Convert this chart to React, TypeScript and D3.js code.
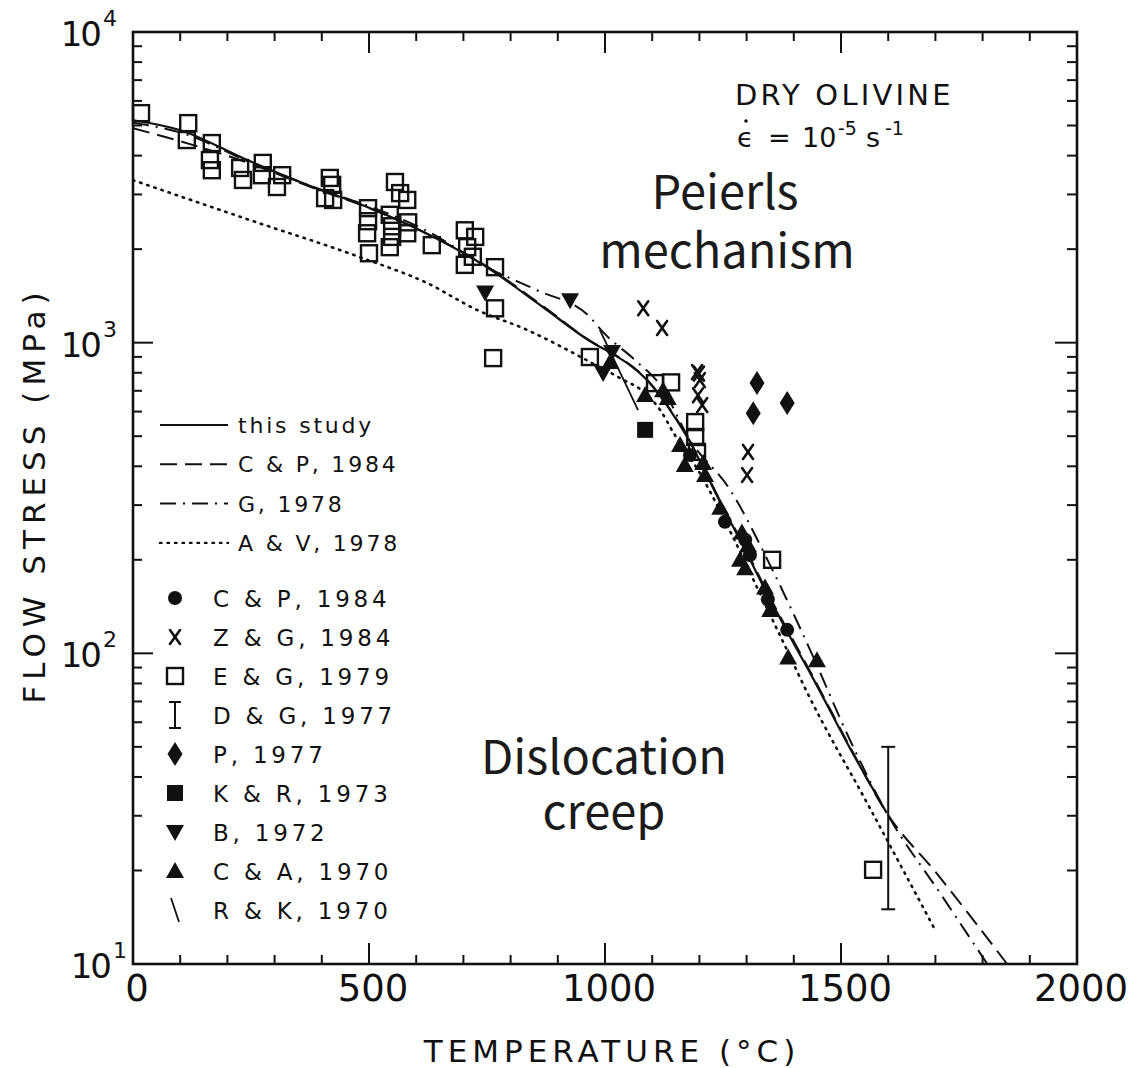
import React from "react";
import * as d3 from "d3";

type Pt = [number, number];

// Flow-law curves: [temperature (°C), flow stress (MPa)]
const thisStudyCurve: Pt[] = [
  [0, 5200], [100, 4830], [242, 3870], [381, 3170], [487, 2770], [608, 2300],
  [742, 1780], [869, 1300], [975, 997], [1011, 930], [1089, 758], [1138, 607],
  [1174, 497], [1244, 307], [1297, 215], [1345, 154], [1392, 113], [1439, 84],
  [1519, 49.5], [1597, 30.6],
];
const cp1984Curve: Pt[] = [
  [0, 4900], [100, 4450], [242, 3800], [381, 3150], [487, 2760], [608, 2300],
  [742, 1790], [869, 1310], [975, 1000], [1011, 935], [1089, 760], [1138, 610],
  [1174, 500], [1244, 310], [1297, 218], [1345, 156], [1392, 115], [1439, 85],
  [1519, 50], [1597, 30.6], [1700, 19.8], [1852, 10],
];
const g1978Curve: Pt[] = [
  [0, 5100], [100, 4750], [250, 3800], [400, 3100], [500, 2750], [620, 2300],
  [763, 1710], [856, 1475], [968, 1209], [996, 1081], [1068, 867], [1117, 731],
  [1180, 486], [1265, 336], [1350, 192], [1434, 103], [1519, 52.6], [1597, 30.6],
  [1710, 16.9], [1810, 10],
];
const av1978Curve: Pt[] = [
  [0, 3335], [248, 2480], [487, 1870], [623, 1556], [729, 1274], [835, 1099],
  [905, 975], [968, 867], [1032, 769], [1085, 688], [1117, 607], [1144, 516],
  [1201, 380], [1271, 237], [1328, 156], [1381, 106], [1428, 75], [1561, 31.8],
  [1699, 12.9],
];

// Experimental data
const cp1984Pts: Pt[] = [[1180, 435], [1254, 265], [1297, 232], [1307, 207], [1345, 149], [1386, 119]];
const zg1984Pts: Pt[] = [
  [1081, 1290], [1121, 1115], [1195, 804], [1199, 795], [1201, 758], [1197, 677],
  [1206, 630], [1303, 445], [1301, 375],
];
const eg1979Pts: Pt[] = [
  [17, 5480], [117, 5090], [114, 4490], [167, 4390], [163, 3870], [167, 3590],
  [227, 3650], [233, 3340], [275, 3790], [273, 3460], [316, 3460], [305, 3170],
  [417, 3390], [422, 3220], [407, 2920], [424, 2880], [498, 2710], [498, 2460],
  [496, 2250], [500, 1940], [555, 3290], [566, 3030], [581, 2880], [544, 2580],
  [549, 2370], [549, 2190], [544, 2030], [583, 2440], [581, 2250], [633, 2060],
  [703, 2300], [725, 2190], [708, 2030], [720, 1890], [703, 1780], [767, 1750],
  [767, 1290], [763, 892], [968, 899], [1106, 741], [1140, 745], [1191, 555],
  [1191, 497], [1195, 445], [1354, 200], [1568, 20.1],
];
const dg1977Temp = 1600;
const dg1977Range: [number, number] = [15, 50];
const p1977Pts: Pt[] = [[1322, 741], [1314, 593], [1386, 640]];
const kr1973Pts: Pt[] = [[1085, 524]];
const b1972Pts: Pt[] = [[746, 1450], [926, 1370], [996, 798], [1015, 933]];
const ca1970Pts: Pt[] = [
  [1011, 867], [1085, 678], [1123, 703], [1133, 664], [1159, 468], [1169, 404],
  [1208, 410], [1212, 375], [1244, 294], [1290, 245], [1303, 223], [1286, 200],
  [1297, 188], [1339, 163], [1350, 138], [1388, 97], [1449, 95],
];
const rk1970Segs: [Pt, Pt][] = [[[989, 1099], [1070, 607]]];

const xTickValues = [0, 500, 1000, 1500, 2000];
const xMinorStep = 100;
const yDecades = [10, 100, 1000, 10000];

const lineLegend = [
  { label: "this study", dash: "none" },
  { label: "C & P, 1984", dash: "17 8" },
  { label: "G, 1978", dash: "16 7 2 7" },
  { label: "A & V, 1978", dash: "1.5 6" },
];
const markerLegend = [
  { kind: "circle", label: "C & P, 1984" },
  { kind: "x", label: "Z & G, 1984" },
  { kind: "square", label: "E & G, 1979" },
  { kind: "bar", label: "D & G, 1977" },
  { kind: "diamond", label: "P, 1977" },
  { kind: "fsquare", label: "K & R, 1973" },
  { kind: "tridown", label: "B, 1972" },
  { kind: "triup", label: "C & A, 1970" },
  { kind: "slash", label: "R & K, 1970" },
];

const W = 1132;
const H = 1068;
const L = 133, R = 1077, T = 32, B = 964;
const INK = "#111";
const FONT = "'DejaVu Sans', sans-serif";

function Marker({ kind, cx, cy }: { kind: string; cx: number; cy: number }) {
  switch (kind) {
    case "circle":
      return <circle cx={cx} cy={cy} r={7} fill={INK} />;
    case "x":
      return (
        <g stroke={INK} strokeWidth={2.6} strokeLinecap="round">
          <line x1={cx - 5} y1={cy - 7} x2={cx + 5} y2={cy + 7} />
          <line x1={cx + 5} y1={cy - 7} x2={cx - 5} y2={cy + 7} />
        </g>
      );
    case "square":
      return <rect x={cx - 8} y={cy - 8} width={16} height={16} fill="none" stroke={INK} strokeWidth={2.4} />;
    case "fsquare":
      return <rect x={cx - 8} y={cy - 8} width={16} height={16} fill={INK} />;
    case "diamond":
      return <polygon points={`${cx},${cy - 12} ${cx + 7.5},${cy} ${cx},${cy + 12} ${cx - 7.5},${cy}`} fill={INK} />;
    case "tridown":
      return <polygon points={`${cx - 9},${cy - 7} ${cx + 9},${cy - 7} ${cx},${cy + 9}`} fill={INK} />;
    case "triup":
      return <polygon points={`${cx - 9},${cy + 7} ${cx + 9},${cy + 7} ${cx},${cy - 9}`} fill={INK} />;
    case "bar":
      return (
        <g stroke={INK} strokeWidth={2}>
          <line x1={cx} y1={cy - 13} x2={cx} y2={cy + 13} />
          <line x1={cx - 6} y1={cy - 13} x2={cx + 6} y2={cy - 13} />
          <line x1={cx - 6} y1={cy + 13} x2={cx + 6} y2={cy + 13} />
        </g>
      );
    case "slash":
      return <line x1={cx - 4} y1={cy - 12} x2={cx + 4} y2={cy + 12} stroke={INK} strokeWidth={1.8} />;
    default:
      return null;
  }
}

export default function App() {
  const x = d3.scaleLinear().domain([0, 2000]).range([L, R]);
  const y = d3.scaleLog().domain([10, 10000]).range([B, T]);
  const line = d3
    .line<Pt>()
    .x((d) => x(d[0]))
    .y((d) => y(d[1]))
    .curve(d3.curveMonotoneX);

  const xMinor = d3.range(0, 2001, xMinorStep);
  const yMinor: number[] = [];
  yDecades.slice(0, -1).forEach((dec) => {
    for (let k = 2; k <= 9; k++) yMinor.push(dec * k);
  });

  const pts = (data: Pt[], kind: string) =>
    data.map((d, i) => <Marker key={kind + i} kind={kind} cx={x(d[0])} cy={y(d[1])} />);

  const curveStyle = { fill: "none", stroke: INK, strokeWidth: 2 } as const;

  return (
    <div style={{ position: "absolute", left: 0, top: 0 }}>
      <svg width={W} height={H} viewBox={`0 0 ${W} ${H}`} style={{ display: "block", background: "#fff" }}>
        <defs>
          <clipPath id="plot">
            <rect x={L} y={T} width={R - L} height={B - T} />
          </clipPath>
        </defs>

        {/* frame */}
        <rect x={L} y={T} width={R - L} height={B - T} fill="none" stroke={INK} strokeWidth={2.6} />

        {/* x ticks, top and bottom, pointing inward */}
        {xMinor.map((v) => {
          const major = v % 500 === 0;
          const len = major ? 21 : 9;
          return (
            <g key={"xt" + v} stroke={INK} strokeWidth={2}>
              <line x1={x(v)} x2={x(v)} y1={T} y2={T + len} />
              <line x1={x(v)} x2={x(v)} y1={B} y2={B - len} />
            </g>
          );
        })}
        {/* y ticks, left and right, pointing inward */}
        {yDecades.map((v) => (
          <g key={"yM" + v} stroke={INK} strokeWidth={2}>
            <line x1={L} x2={L + 20} y1={y(v)} y2={y(v)} />
            <line x1={R} x2={R - 22} y1={y(v)} y2={y(v)} />
          </g>
        ))}
        {yMinor.map((v) => (
          <g key={"ym" + v} stroke={INK} strokeWidth={2}>
            <line x1={L} x2={L + 9} y1={y(v)} y2={y(v)} />
            <line x1={R} x2={R - 10} y1={y(v)} y2={y(v)} />
          </g>
        ))}

        {/* tick labels */}
        {xTickValues.map((v) => (
          <text key={"xl" + v} x={x(v) + 4} y={1001} textAnchor="middle" fontFamily={FONT} fontSize={37} fill={INK}>
            {v}
          </text>
        ))}
        {yDecades.map((v) => {
          const e = Math.round(Math.log10(v));
          const yy = y(v);
          const baseEnd = e === 1 ? 110 : 100;
          return (
            <g key={"yl" + v} fontFamily={FONT} fill={INK}>
              <text x={baseEnd} y={yy + 14} textAnchor="end" fontSize={34} letterSpacing={-2}>
                10
              </text>
              <text x={baseEnd + 3} y={yy - 6} fontSize={22}>
                {e}
              </text>
            </g>
          );
        })}

        {/* axis titles */}
        <text x={612} y={1062} textAnchor="middle" fontFamily={FONT} fontSize={31} letterSpacing={5} fill={INK}>
          TEMPERATURE (°C)
        </text>
        <text
          transform="translate(45,495) rotate(-90)"
          textAnchor="middle"
          fontFamily={FONT}
          fontSize={31}
          letterSpacing={6}
          fill={INK}
        >
          FLOW STRESS (MPa)
        </text>

        {/* curves */}
        <g clipPath="url(#plot)">
          <path d={line(av1978Curve) ?? ""} {...curveStyle} strokeWidth={2.6} strokeDasharray="1.5 6" strokeLinecap="round" />
          <path d={line(g1978Curve) ?? ""} {...curveStyle} strokeDasharray="16 7 2 7" />
          <path d={line(cp1984Curve) ?? ""} {...curveStyle} strokeDasharray="17 8" />
          <path d={line(thisStudyCurve) ?? ""} {...curveStyle} strokeWidth={2.2} />
        </g>

        {/* data */}
        <g>
          {pts(eg1979Pts, "square")}
          {pts(zg1984Pts, "x")}
          {pts(p1977Pts, "diamond")}
          {pts(kr1973Pts, "fsquare")}
          {pts(b1972Pts, "tridown")}
          {pts(ca1970Pts, "triup")}
          {pts(cp1984Pts, "circle")}
          {rk1970Segs.map((s, i) => (
            <line key={"rk" + i} x1={x(s[0][0])} y1={y(s[0][1])} x2={x(s[1][0])} y2={y(s[1][1])} stroke={INK} strokeWidth={1.8} />
          ))}
          <g stroke={INK} strokeWidth={2}>
            <line x1={x(dg1977Temp)} x2={x(dg1977Temp)} y1={y(dg1977Range[0])} y2={y(dg1977Range[1])} />
            <line x1={x(dg1977Temp) - 7} x2={x(dg1977Temp) + 7} y1={y(dg1977Range[0])} y2={y(dg1977Range[0])} />
            <line x1={x(dg1977Temp) - 7} x2={x(dg1977Temp) + 7} y1={y(dg1977Range[1])} y2={y(dg1977Range[1])} />
          </g>
        </g>

        {/* legend: curves */}
        {lineLegend.map((d, i) => {
          const ly = 425 + i * 39.3;
          return (
            <g key={"ll" + i}>
              <line
                x1={160}
                x2={228}
                y1={ly}
                y2={ly}
                stroke={INK}
                strokeWidth={d.dash === "1.5 6" ? 2.4 : 2}
                strokeDasharray={d.dash}
                strokeLinecap={d.dash === "1.5 6" ? "round" : "butt"}
              />
              <text x={238} y={ly + 8} fontFamily={FONT} fontSize={22} letterSpacing={2.8} fill={INK}>
                {d.label}
              </text>
            </g>
          );
        })}
        {/* legend: data */}
        {markerLegend.map((d, i) => {
          const ly = 598 + i * 39;
          return (
            <g key={"ml" + i}>
              <Marker kind={d.kind} cx={175} cy={ly} />
              <text x={213} y={ly + 9} fontFamily={FONT} fontSize={23} letterSpacing={3.8} fill={INK}>
                {d.label}
              </text>
            </g>
          );
        })}

        {/* conditions */}
        <text x={735} y={105} fontFamily={FONT} fontSize={29} letterSpacing={3.2} fill={INK}>
          DRY OLIVINE
        </text>
        <circle cx={746} cy={121} r={1.8} fill={INK} />
        <text y={147} fontFamily={FONT} fontSize={27} fill={INK}>
          <tspan x={737}>ϵ</tspan>
          <tspan x={768}>=</tspan>
          <tspan x={802}>10</tspan>
          <tspan x={838} dy={-12} fontSize={19}>-5</tspan>
          <tspan x={866} dy={12}>s</tspan>
          <tspan x={885} dy={-12} fontSize={19}>-1</tspan>
        </text>

        {/* regime labels */}
        <g fontFamily="'Noto Sans CJK JP', 'Noto Sans', sans-serif" fontSize={47} fill="#1b1b1b" textAnchor="middle">
          <text>
            <tspan x={725} y={209}>Peierls</tspan>
            <tspan x={727} y={268}>mechanism</tspan>
          </text>
          <text>
            <tspan x={604} y={774}>Dislocation</tspan>
            <tspan x={604} y={829}>creep</tspan>
          </text>
        </g>
      </svg>
    </div>
  );
}
